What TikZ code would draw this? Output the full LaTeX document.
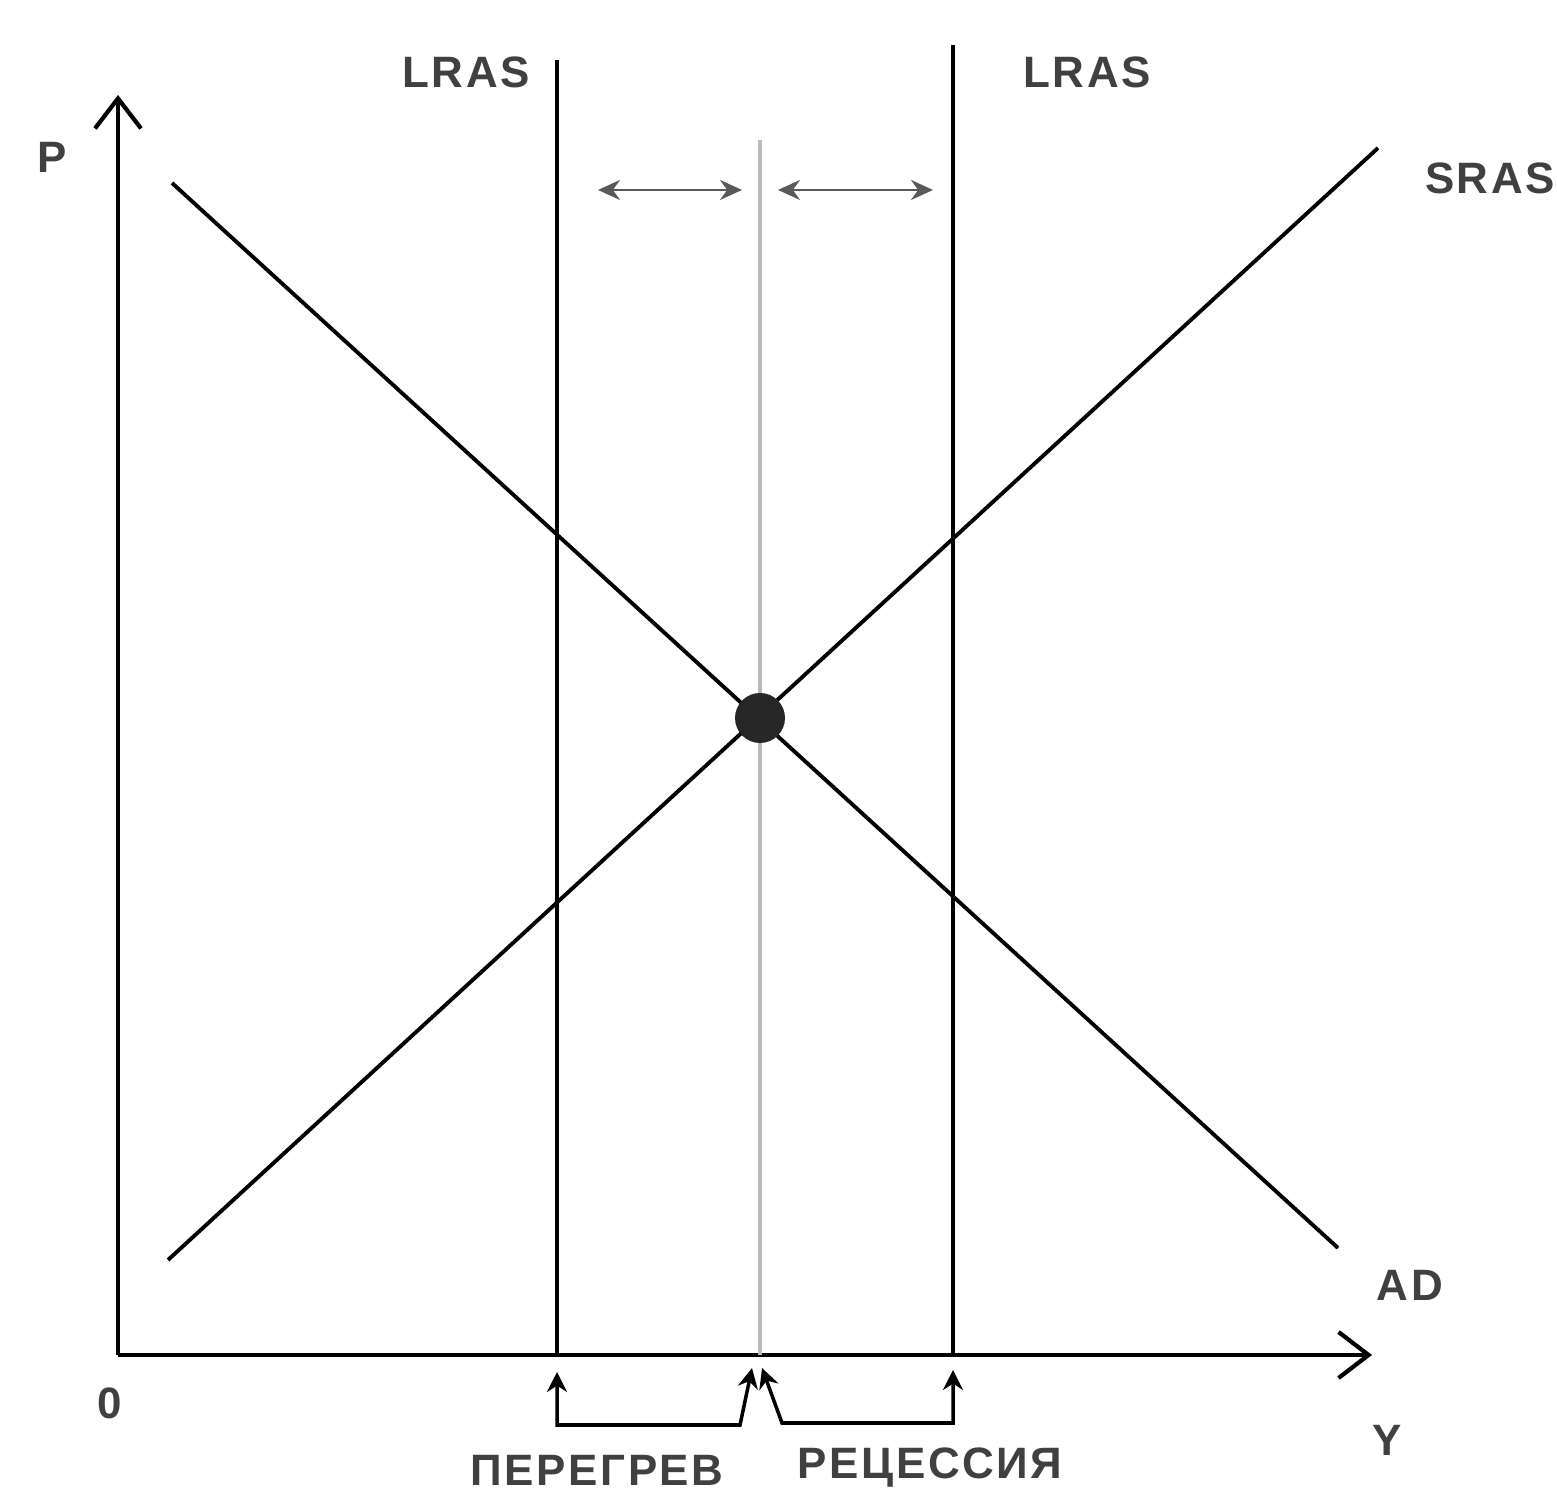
\documentclass[tikz,border=0pt]{standalone}
\usepackage{fontspec}
\setmainfont{Liberation Sans}
\usetikzlibrary{arrows.meta}
\begin{document}
\begin{tikzpicture}[
        axis/.style={line width=1.2pt, -{Straight Barb[length=3mm, width=4.6mm]}},
        curve/.style={line width=1.1pt},
        lras/.style={line width=0.9pt},
        lrasmove/.style={gray!70!black, line width=0.6pt, {Stealth[length=2.2mm, width=2mm]}-{Stealth[length=2.2mm, width=2mm]}},
        gap/.style={line width=1pt, {Stealth[length=2mm, width=2mm]}-{Stealth[length=2mm, width=2mm]}},
        lbl/.style={text=black!75, font=\fontsize{12.5}{15}\selectfont\bfseries\addfontfeatures{LetterSpace=6}},
    ]
    \useasboundingbox (0,0) rectangle (15.57,14.96);

    % axes
    \coordinate (o) at (1.18,1.41);
    \coordinate (ptip) at (1.18,14.01);
    \coordinate (ytip) at (13.72,1.41);
    \draw[axis] (o) -- (ptip);
    \draw[axis] (o) -- (ytip);

    % potential output and the two LRAS lines
    \coordinate (mtop) at (7.60,13.56);
    \coordinate (mbot) at (7.60,1.41);
    \draw[gray!55, line width=0.9pt] (mtop) -- (mbot);
    \foreach \n/\x/\t in {l/5.57/14.36, r/9.53/14.51}{
        \coordinate (\n top) at (\x,\t);
        \coordinate (\n bot) at (\x,1.41);
        \draw[lras] (\n top) -- (\n bot);
    }

    % AD and SRAS
    \coordinate (ad1) at (1.72,13.13);
    \coordinate (ad2) at (13.38,2.48);
    \coordinate (as1) at (1.68,2.36);
    \coordinate (as2) at (13.78,13.48);
    \draw[curve] (ad1) -- (ad2);
    \draw[curve] (as1) -- (as2);
    \node[circle, fill=black!85, minimum size=5mm, inner sep=0pt] (eq) at (7.60,7.78) {};

    % labels
    \node[lbl] (llras) at (4.66,14.24) {LRAS};
    \node[lbl] (rlras) at (10.87,14.24) {LRAS};
    \node[lbl] (sras) at (14.90,13.18) {SRAS};
    \node[lbl] (ad) at (14.10,2.11) {AD};
    \node[lbl] (p) at (0.52,13.39) {P};
    \node[lbl] (zero) at (1.10,0.93) {0};
    \node[lbl] (y) at (13.87,0.56) {Y};

    % shifts of LRAS
    \coordinate (a1) at (5.98,13.06);
    \coordinate (a2) at (7.42,13.06);
    \coordinate (a3) at (7.78,13.06);
    \coordinate (a4) at (9.33,13.06);
    \draw[lrasmove] (a1) -- (a2);
    \draw[lrasmove] (a3) -- (a4);

    % output gaps
    \coordinate (g1) at (5.57,1.24);
    \coordinate (g2) at (5.57,0.71);
    \coordinate (g3) at (7.40,0.71);
    \coordinate (g4) at (7.52,1.28);
    \coordinate (h1) at (9.53,1.26);
    \coordinate (h2) at (9.53,0.73);
    \coordinate (h3) at (7.82,0.73);
    \coordinate (h4) at (7.62,1.28);
    \draw[gap] (g1) -- (g2) -- (g3) -- (g4);
    \draw[gap] (h1) -- (h2) -- (h3) -- (h4);
    \node[lbl] (over) at (5.97,0.26) {ПЕРЕГРЕВ};
    \node[lbl] (rec) at (9.30,0.28) {РЕЦЕССИЯ};
\end{tikzpicture}
\end{document}
